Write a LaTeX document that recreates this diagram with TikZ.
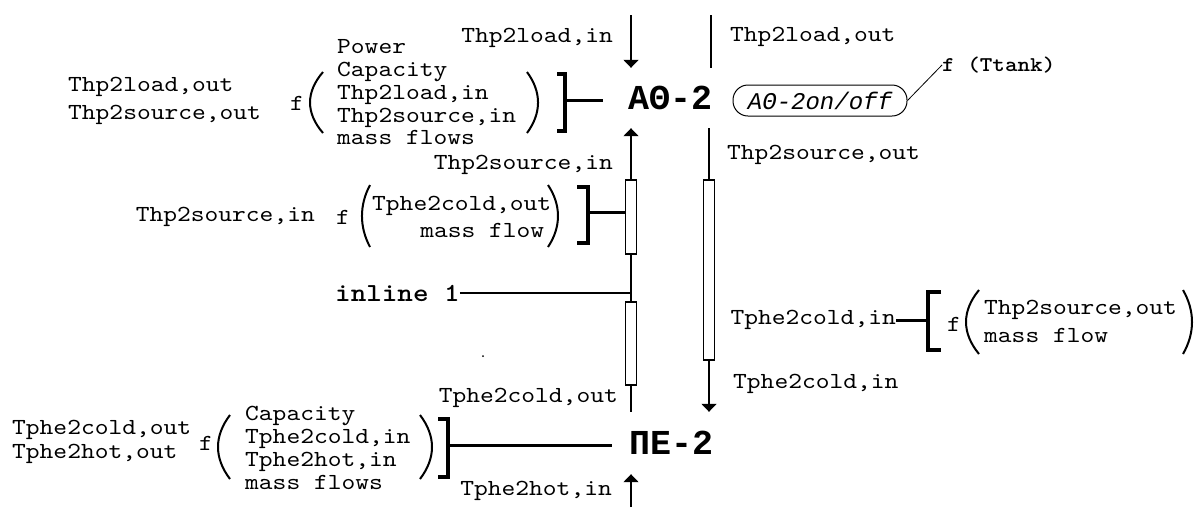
\documentclass[tikz,border=0pt]{standalone}
\usepackage{fontspec}
\setmainfont{Liberation Mono}
\newfontfamily\cour{lmmono10-regular.otf}[FakeStretch=1.14]
\newfontfamily\courb{lmmonolt10-bold.otf}[FakeStretch=1.14]
\usetikzlibrary{arrows.meta}

\begin{document}
\begin{tikzpicture}[
  x=1pt, y=-1pt,
  txt/.style={font=\cour\fontsize{23}{23}\selectfont, inner sep=0pt},
  argl/.style={txt, align=left, font=\cour\fontsize{23}{22.75}\selectfont},
  unit/.style={font=\fontsize{35}{35}\selectfont\bfseries, inner sep=0pt},
  pipe/.style={line width=1.5pt},
  flow/.style={pipe, -{Triangle[width=15pt,length=8pt]}},
  hx/.style={draw, fill=white, line width=1.5pt, minimum width=11pt, inner sep=0pt},
  brk/.style={line width=4pt},
  tie/.style={line width=3pt},
  paren/.style={line width=2pt},
]
\useasboundingbox (0,0) rectangle (1196,507);

% Units
\node[unit, minimum width=134pt, minimum height=60pt] (ao) at (670,98) {AΘ-2};
\node[unit, minimum width=118pt, minimum height=62pt] (pe) at (671,443) {ΠE-2};

% Heat exchanger sections on the pipes
\node[hx, minimum height=74pt] (h1) at (631,217) {};
\node[hx, minimum height=83pt] (h2) at (631,343.5) {};
\node[hx, minimum height=180pt] (h3) at (709,270) {};

% Pipes
\coordinate (lt) at (631,15);
\coordinate (rt) at (711,15);
\coordinate (lb) at (631,507);
\draw[flow] (lt) -- (lt |- ao.north);
\draw[pipe] (rt) -- (rt |- ao.north);
\draw[flow] (h1.north) -- (h1.north |- ao.south);
\draw[pipe] (h1.south) -- (h2.north);
\draw[pipe] (h2.south) -- (h2.south |- pe.north);
\draw[pipe] (h3.north |- ao.south) -- (h3.north);
\draw[flow] (h3.south) -- (h3.south |- pe.north);
\draw[flow] (lb) -- (lb |- pe.south);

% Pipe temperatures
\node[txt, anchor=east] (tlin) at (613,38) {Thp2load,in};
\node[txt, anchor=west] (tlout) at (730,37) {Thp2load,out};
\node[txt, anchor=east] (tsin) at (613,165) {Thp2source,in};
\node[txt, anchor=west] (tsout) at (727,155) {Thp2source,out};
\node[txt, anchor=west] (tcin) at (733,384) {Tphe2cold,in};
\node[txt, anchor=east] (tcout) at (618,398) {Tphe2cold,out};
\node[txt, anchor=east] (thin) at (612,491) {Tphe2hot,in};

% On/off control
\node[draw, line width=1pt, rounded corners=15pt, minimum width=174pt, minimum height=31pt,
      inner sep=0pt, font=\fontsize{24}{24}\selectfont\itshape] (onoff) at (820,100.5) {AΘ-2on/off};
\node[txt, anchor=west, font=\courb\fontsize{21}{21}\selectfont] (ttank) at (942,65) {f (Ttank)};
\draw[line width=0.8pt] (onoff.east) -- (ttank.west);

% Inline junction
\node[txt, anchor=west, font=\courb\fontsize{26}{26}\selectfont] (inl) at (335,293) {inline 1};
\draw[pipe] (inl.east) -- (inl.east -| h1.south);

% AΘ-2 model
\node[txt, anchor=west, align=left, font=\cour\fontsize{23}{28}\selectfont] (aoout) at (68,101) {Thp2load,out\\Thp2source,out};
\node[txt] (aof) at (297,103) {f};
\node[argl, anchor=west] (aoarg) at (337,92.5) {Power\\Capacity\\Thp2load,in\\Thp2source,in\\mass flows};
\draw[paren] (323,72) .. controls (305.7,92) and (305.7,113) .. (323,133);
\draw[paren] (527,72) .. controls (541.7,92) and (541.7,113) .. (527,133);
\draw[brk] (557,74) -- (565,74) -- (565,131) -- (557,131);
\coordinate (b1) at (565,100);
\draw[tie] (b1) -- (b1 -| ao.west);

% Source side exchanger model
\node[txt, anchor=east] (hxin) at (315,217) {Thp2source,in};
\node[txt] (hxf) at (343,217) {f};
\node[txt, anchor=west, align=right, font=\cour\fontsize{23}{27}\selectfont] (hxarg) at (372,216.5) {Tphe2cold,out\\mass flow\kern7pt};
\draw[paren] (370,185) .. controls (359.3,205) and (359.3,227) .. (370,247);
\draw[paren] (548,185) .. controls (561.3,205) and (561.3,227) .. (548,247);
\draw[brk] (577,187) -- (588,187) -- (588,243) -- (577,243);
\coordinate (b2) at (588,212);
\draw[tie] (b2) -- (b2 -| h1.west);

% Cold side exchanger model
\node[txt, anchor=east] (tcin2) at (896,320) {Tphe2cold,in};
\coordinate (b4) at (928,321);
\draw[tie] (tcin2.east) -- (tcin2.east -| b4);
\draw[brk] (941,292) -- (928,292) -- (928,350) -- (941,350);
\node[txt] (srcf) at (954,324) {f};
\draw[paren] (979,290) .. controls (961.7,311) and (961.7,333) .. (979,354);
\node[txt, anchor=west, align=left, font=\cour\fontsize{23}{28}\selectfont] (srcarg) at (984,321) {Thp2source,out\\mass flow};
\draw[paren] (1183,290) .. controls (1195,311) and (1195,333) .. (1183,354);

% ΠE-2 model
\node[txt, anchor=west, align=left, font=\cour\fontsize{23}{24}\selectfont] (peout) at (12,442) {Tphe2cold,out\\Tphe2hot,out};
\node[txt] (pef) at (206,443) {f};
\draw[paren] (230,415) .. controls (214,436) and (214,458) .. (230,479);
\node[argl, anchor=west] (pearg) at (245,448) {Capacity\\Tphe2cold,in\\Tphe2hot,in\\mass flows};
\draw[paren] (420,415) .. controls (436,436) and (436,458) .. (420,479);
\draw[brk] (438,419) -- (448,419) -- (448,477) -- (438,477);
\coordinate (b3) at (448,445);
\draw[tie] (b3) -- (b3 -| pe.west);

\fill (483,356) circle (1);

\end{tikzpicture}
\end{document}
